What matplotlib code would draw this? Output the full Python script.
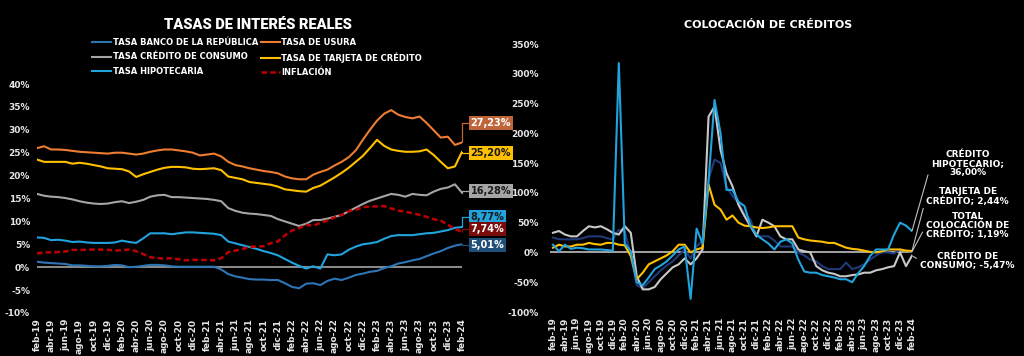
import matplotlib.pyplot as plt
import numpy as np

# ---- data: tasas de interés reales (feb-19 .. feb-24, mensual)
meses = ['feb-19', 'abr-19', 'jun-19', 'ago-19', 'oct-19', 'dic-19',
         'feb-20', 'abr-20', 'jun-20', 'ago-20', 'oct-20', 'dic-20',
         'feb-21', 'abr-21', 'jun-21', 'ago-21', 'oct-21', 'dic-21',
         'feb-22', 'abr-22', 'jun-22', 'ago-22', 'oct-22', 'dic-22',
         'feb-23', 'abr-23', 'jun-23', 'ago-23', 'oct-23', 'dic-23', 'feb-24']

usura = [26.0, 26.4, 25.7, 25.7, 25.6, 25.4, 25.2, 25.1, 25.0, 24.9, 24.8, 25.0, 25.0,
         24.8, 24.6, 24.8, 25.2, 25.5, 25.7, 25.7, 25.5, 25.3, 25.0, 24.4, 24.6, 24.8,
         24.2, 23.0, 22.3, 22.0, 21.6, 21.3, 21.0, 20.8, 20.5, 19.8, 19.4, 19.2, 19.2,
         20.2, 20.8, 21.3, 22.2, 23.0, 24.0, 25.5, 27.8, 30.0, 32.0, 33.5, 34.3, 33.3,
         32.8, 32.5, 32.9, 31.5, 29.9, 28.3, 28.5, 26.7, 27.23]
tarjeta = [23.5, 23.0, 23.0, 23.0, 23.0, 22.6, 22.8, 22.6, 22.3, 22.0, 21.6, 21.5, 21.4,
           20.9, 19.7, 20.3, 20.8, 21.3, 21.7, 21.9, 21.9, 21.8, 21.5, 21.4, 21.5, 21.6,
           21.2, 19.8, 19.5, 19.2, 18.6, 18.4, 18.2, 18.0, 17.6, 17.0, 16.8, 16.6, 16.5,
           17.3, 17.8, 18.7, 19.6, 20.6, 21.7, 23.0, 24.3, 26.0, 27.8, 26.5, 25.7, 25.4,
           25.2, 25.2, 25.3, 25.7, 24.5, 23.0, 21.6, 22.0, 25.20]
consumo = [16.0, 15.6, 15.4, 15.3, 15.1, 14.8, 14.4, 14.1, 13.9, 13.8, 13.9, 14.2, 14.4,
           14.0, 14.3, 14.7, 15.4, 15.7, 15.8, 15.3, 15.3, 15.2, 15.1, 15.0, 14.9, 14.7,
           14.4, 12.9, 12.3, 11.9, 11.7, 11.6, 11.4, 11.2, 10.5, 10.0, 9.5, 9.0, 9.5,
           10.3, 10.3, 10.6, 11.0, 11.4, 12.2, 13.0, 13.8, 14.5, 15.0, 15.5, 16.0, 15.8,
           15.4, 16.0, 15.8, 15.7, 16.5, 17.1, 17.4, 18.1, 16.28]
hipotecaria = [6.5, 6.4, 5.9, 6.0, 5.8, 5.5, 5.6, 5.4, 5.3, 5.3, 5.3, 5.4, 5.8,
               5.5, 5.3, 6.3, 7.4, 7.4, 7.4, 7.2, 7.4, 7.6, 7.6, 7.5, 7.4, 7.3,
               7.0, 5.6, 5.2, 4.8, 4.4, 4.0, 3.5, 3.1, 2.6, 1.8, 1.0, 0.3, -0.3,
               0.2, -0.3, 2.8, 2.6, 2.8, 3.8, 4.5, 5.0, 5.2, 5.5, 6.2, 6.8, 7.0,
               7.0, 7.0, 7.2, 7.4, 7.5, 7.8, 8.1, 8.6, 8.77]
banrep = [1.2, 1.0, 0.9, 0.8, 0.7, 0.4, 0.4, 0.3, 0.2, 0.2, 0.3, 0.5, 0.4,
          0.0, 0.1, 0.3, 0.5, 0.5, 0.4, 0.2, 0.1, 0.1, 0.1, 0.1, 0.1, 0.1,
          -0.5, -1.5, -2.0, -2.3, -2.6, -2.7, -2.7, -2.8, -2.8, -3.5, -4.3, -4.6, -3.6,
          -3.5, -3.9, -3.0, -2.5, -2.8, -2.3, -1.7, -1.4, -1.0, -0.8, -0.2, 0.2, 0.8,
          1.1, 1.5, 1.8, 2.4, 3.0, 3.5, 4.2, 4.7, 5.01]
inflacion = [3.01, 3.21, 3.25, 3.31, 3.43, 3.79, 3.75, 3.82, 3.86, 3.84, 3.80, 3.62, 3.72,
             3.86, 3.51, 2.85, 2.19, 1.97, 1.88, 1.97, 1.75, 1.49, 1.61, 1.60, 1.56, 1.51,
             1.95, 3.30, 3.63, 3.97, 4.44, 4.51, 4.58, 5.26, 5.62, 6.94, 8.01, 8.53, 9.23,
             9.07, 9.67, 10.21, 10.84, 11.44, 12.22, 12.53, 13.12, 13.25, 13.28, 13.34, 12.82, 12.36,
             12.13, 11.78, 11.43, 10.99, 10.48, 10.15, 9.28, 8.35, 7.74]

# ---- data: colocación de créditos (variación anual, %)
hipotecario_col = [13, 2, 13, 6, 8, 7, 5, 5, 5, 4, 3, 318, 15, 2, -50, -55, -42, -28, -22, -15,
                   -5, 5, 10, -78, 40, 15, 120, 256, 200, 105, 105, 85, 78, 45, 30, 22, 15, 5,
                   18, 22, 15, -12, -32, -34, -34, -38, -40, -42, -45, -45, -50, -35, -23, -6,
                   5, 5, 5, 30, 50, 45, 36.00]
consumo_col = [33, 36, 30, 27, 27, 36, 44, 42, 44, 39, 33, 30, 44, 33, -40, -62, -62, -58, -45,
               -35, -25, -20, -10, -20, -10, 5, 228, 245, 172, 133, 111, 80, 61, 44, 27, 55, 50,
               44, 27, 22, 22, 5, 2, 0, -23, -30, -34, -36, -40, -40, -38, -37, -34, -34, -30,
               -28, -25, -23, 0, -23, -5.47]
total_col = [25, 22, 22, 22, 22, 24, 27, 27, 27, 24, 22, 38, 35, -5, -55, -60, -50, -40, -30,
             -22, -15, -5, 5, -10, 10, 20, 122, 156, 150, 110, 95, 83, 65, 55, 27, 27, 27, 20,
             10, 10, 10, 0, -5, -12, -15, -23, -28, -28, -28, -17, -28, -25, -20, -12, -5, 0,
             0, -2, 5, 3, 1.19]
tarjeta_col = [8, 13, 10, 10, 13, 13, 16, 14, 13, 16, 16, 13, 12, -6, -45, -34, -20, -15, -10,
               -5, 2, 13, 13, 0, 5, 8, 114, 80, 72, 55, 62, 50, 45, 44, 42, 41, 42, 44, 44, 44,
               44, 25, 22, 20, 19, 18, 16, 16, 12, 8, 6, 5, 3, 1, 0, 2, 5, 5, 5, 3, 2.44]

BG = 'black'
FG = '#E6E6E6'
C_BANREP = '#2E75B6'
C_USURA = '#ED7D31'
C_CONSUMO = '#A5A5A5'
C_TARJETA = '#FFC000'
C_HIPO = '#21A3DE'
C_INFL = '#C00000'
C_TOTAL = '#203A78'

fig = plt.figure(figsize=(10.24, 3.56), dpi=100, facecolor=BG)

# ================= left chart =================
ax1 = fig.add_axes([37 / 1024, 43 / 356, 425 / 1024, 229 / 356])
ax1.set_facecolor(BG)
x = np.arange(len(usura))
ax1.axhline(0, color='#8C8C8C', lw=1.4, zorder=1)
l_ban, = ax1.plot(x, banrep, color=C_BANREP, lw=1.5, label='TASA BANCO DE LA REPÚBLICA')
l_usu, = ax1.plot(x, usura, color=C_USURA, lw=1.5, label='TASA DE USURA')
l_con, = ax1.plot(x, consumo, color=C_CONSUMO, lw=1.5, label='TASA CRÉDITO DE CONSUMO')
l_tar, = ax1.plot(x, tarjeta, color=C_TARJETA, lw=1.5, label='TASA DE TARJETA DE CRÉDITO')
l_hip, = ax1.plot(x, hipotecaria, color=C_HIPO, lw=1.5, label='TASA HIPOTECARIA')
l_inf, = ax1.plot(x, inflacion, color=C_INFL, lw=1.8, ls=(0, (2.2, 1.3)), label='INFLACIÓN')
ax1.set_xlim(0, 60)
ax1.set_ylim(-10, 40)
ax1.set_yticks(range(-10, 41, 5))
ax1.set_yticklabels([f'{v}%' for v in range(-10, 41, 5)])
ax1.set_xticks(range(0, 61, 2))
ax1.set_xticklabels(meses, rotation=90)

# end labels with boxes
end_labels = [
    (usura[-1], 31.5, '27,23%', '#C0653A', 'white'),
    (tarjeta[-1], 24.9, '25,20%', C_TARJETA, '#1A1A1A'),
    (consumo[-1], 16.6, '16,28%', C_CONSUMO, '#1A1A1A'),
    (hipotecaria[-1], 10.9, '8,77%', C_HIPO, '#1A1A1A'),
    (inflacion[-1], 8.3, '7,74%', '#7B0C0C', 'white'),
    (banrep[-1], 4.8, '5,01%', '#1F4E79', 'white'),
]
for yv, ylab, txt, bc, tc in end_labels:
    ax1.annotate(txt, xy=(60, yv), xytext=(61.2, ylab), va='center', ha='left',
                 fontsize=7, fontweight='bold', color=tc, annotation_clip=False,
                 bbox=dict(boxstyle='square,pad=0.2', fc=bc, ec='none'),
                 arrowprops=dict(arrowstyle='-', color=bc, lw=0.9,
                                 connectionstyle='angle,angleA=0,angleB=90,rad=0',
                                 shrinkA=0, shrinkB=0))

fig.text(258 / 1024, 1 - 25 / 356, 'TASAS DE INTERÉS REALES', ha='center', va='center',
         color='white', fontsize=10.5, fontweight='black', family='Roboto')
handles = [l_ban, l_con, l_hip, l_usu, l_tar, l_inf]
leg = fig.legend(handles=handles, labels=[h.get_label() for h in handles], ncol=2,
                 loc='upper center', bbox_to_anchor=(257 / 1024, 1 - 38 / 356),
                 frameon=False, fontsize=6.0, handlelength=2.3, handletextpad=0.2,
                 columnspacing=0.3, labelspacing=0.65, borderaxespad=0, borderpad=0)
for t in leg.get_texts():
    t.set_color('white')
    t.set_fontweight('bold')

# ================= right chart =================
ax2 = fig.add_axes([550 / 1024, 44 / 356, 362 / 1024, 268 / 356])
ax2.set_facecolor(BG)
x2 = np.arange(len(hipotecario_col))
ax2.axhline(0, color='#BFBFBF', lw=1.2, zorder=1)
ax2.plot(x2, total_col, color=C_TOTAL, lw=1.5)
ax2.plot(x2, consumo_col, color='#C8C8C8', lw=1.5)
ax2.plot(x2, tarjeta_col, color=C_TARJETA, lw=1.5)
ax2.plot(x2, hipotecario_col, color=C_HIPO, lw=1.5)
ax2.set_xlim(-0.5, 60)
ax2.set_ylim(-100, 350)
ax2.set_yticks(range(-100, 351, 50))
ax2.set_yticklabels([f'{v}%' for v in range(-100, 351, 50)])
ax2.set_xticks(range(0, 61, 2))
ax2.set_xticklabels(meses, rotation=90)

right_labels = [
    (hipotecario_col[-1], 149, 'CRÉDITO\nHIPOTECARIO;\n36,00%'),
    (tarjeta_col[-1], 94, 'TARJETA DE\nCRÉDITO; 2,44%'),
    (total_col[-1], 45, 'TOTAL\nCOLOCACIÓN DE\nCRÉDITO; 1,19%'),
    (consumo_col[-1], -14, 'CRÉDITO DE\nCONSUMO; -5,47%'),
]
for yv, ylab, txt in right_labels:
    ax2.annotate(txt, xy=(60, yv), xytext=(69.3, ylab), ha='center', va='center',
                 fontsize=6.5, fontweight='bold', color='white', linespacing=1.0,
                 annotation_clip=False,
                 arrowprops=dict(arrowstyle='-', color='#BFBFBF', lw=0.8,
                                 relpos=(0, 0.5), shrinkA=1, shrinkB=0))

fig.text(768 / 1024, 1 - 25 / 356, 'COLOCACIÓN DE CRÉDITOS', ha='center', va='center',
         color='white', fontsize=8, fontweight='bold')

for ax in (ax1, ax2):
    for s in ax.spines.values():
        s.set_visible(False)
    ax.tick_params(length=0, colors=FG, labelsize=6.5)
    for lab in ax.get_xticklabels() + ax.get_yticklabels():
        lab.set_fontweight('bold')
ax1.tick_params(axis='y', pad=5)
ax1.tick_params(axis='x', pad=4)
ax2.tick_params(axis='y', pad=8)
ax2.tick_params(axis='x', pad=4)

fig.savefig('out.png', dpi=100, facecolor=BG)
